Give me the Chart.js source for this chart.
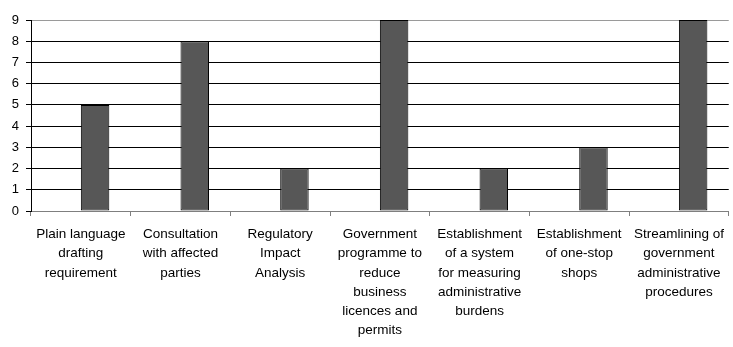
<!DOCTYPE html>
<html>
<head>
<meta charset="utf-8">
<script src="https://cdn.jsdelivr.net/npm/chart.js@4/dist/chart.umd.min.js"></script>
<style>
  html, body { margin: 0; padding: 0; background: #fff; }
  #wrap { width: 733px; height: 347px; position: relative; }
</style>
</head>
<body>
<div id="wrap"><canvas id="c"></canvas></div>
<script>
// Categories (wrapped onto lines) and the number of countries per reform tool
const categories = [
  ["Plain language", "drafting", "requirement"],
  ["Consultation", "with affected", "parties"],
  ["Regulatory", "Impact", "Analysis"],
  ["Government", "programme to", "reduce", "business", "licences and", "permits"],
  ["Establishment", "of a system", "for measuring", "administrative", "burdens"],
  ["Establishment", "of one-stop", "shops"],
  ["Streamlining of", "government", "administrative", "procedures"]
];
const emptySeries = [null, null, null, null, null, null, null];
const counts = [5, 8, 2, 9, 2, 3, 9];
const yTicks = [0, 1, 2, 3, 4, 5, 6, 7, 8, 9];

const FONT = "'Liberation Sans', Arial, sans-serif";

new Chart(document.getElementById('c'), {
  type: 'bar',
  data: {
    labels: categories,
    datasets: [
      { data: emptySeries, backgroundColor: 'transparent' },
      {
        data: counts,
        backgroundColor: '#575757',
        borderColor: '#000000',
        borderWidth: 1,
        borderSkipped: false
      }
    ]
  },
  options: {
    responsive: true,
    maintainAspectRatio: false,
    animation: false,
    events: [],
    layout: { padding: { top: 20, right: 1, bottom: 0, left: 0 } },
    datasets: { bar: { categoryPercentage: 2 / 3.5, barPercentage: 1 } },
    plugins: { legend: { display: false }, tooltip: { enabled: false } },
    scales: {
      x: {
        offset: true,
        border: { display: true, color: '#7f7f7f', width: 1 },
        grid: {
          offset: true,
          drawOnChartArea: false,
          drawTicks: true,
          tickLength: 5,
          tickColor: '#7f7f7f'
        },
        ticks: {
          autoSkip: false,
          maxRotation: 0,
          minRotation: 0,
          padding: 9,
          color: '#000',
          font: { family: FONT, size: 13.5, lineHeight: 1.42 }
        },
        afterFit: (s) => { s.height = 136; }
      },
      y: {
        min: yTicks[0],
        max: yTicks[yTicks.length - 1],
        afterBuildTicks: (s) => { s.ticks = yTicks.map(v => ({ value: v })); },
        border: { display: true, color: '#000', width: 1 },
        grid: {
          color: (ctx) => {
            const v = ctx.tick ? ctx.tick.value : null;
            if (v === 0) return 'rgba(0,0,0,0)';
            if (v === 9) return '#9a9a9a';
            return '#000';
          },
          lineWidth: 1,
          drawTicks: true,
          tickLength: 5,
          tickColor: '#000'
        },
        ticks: {
          padding: 7,
          color: '#000',
          font: { family: FONT, size: 13 }
        },
        afterFit: (s) => { s.width = 31; }
      }
    }
  }
});
</script>
</body>
</html>
